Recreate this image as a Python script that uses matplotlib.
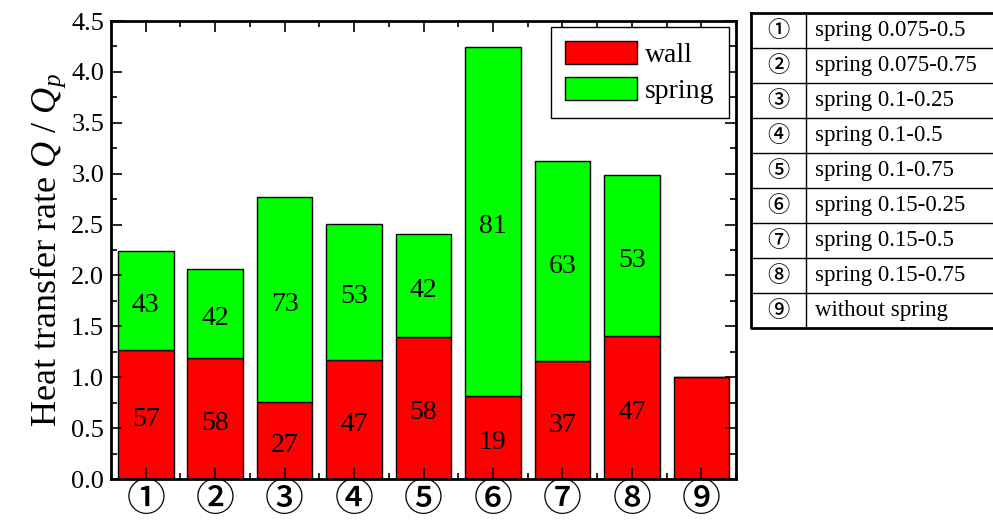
import matplotlib
matplotlib.use('Agg')
import matplotlib.pyplot as plt
import numpy as np

plt.rcParams['font.family'] = ['Liberation Serif', 'DejaVu Serif']
plt.rcParams['mathtext.fontset'] = 'custom'
plt.rcParams['mathtext.rm'] = 'Liberation Serif'
plt.rcParams['mathtext.it'] = 'Liberation Serif:italic'

# heat transfer rate split into wall and spring parts
cases = ['①', '②', '③', '④', '⑤', '⑥', '⑦', '⑧', '⑨']
wall = [1.27, 1.19, 0.76, 1.17, 1.40, 0.82, 1.16, 1.41, 1.00]
spring = [0.97, 0.87, 2.01, 1.34, 1.01, 3.42, 1.96, 1.58, 0.0]
case_names = ['spring 0.075-0.5', 'spring 0.075-0.75', 'spring 0.1-0.25',
              'spring 0.1-0.5', 'spring 0.1-0.75', 'spring 0.15-0.25',
              'spring 0.15-0.5', 'spring 0.15-0.75', 'without spring']

circ_font = ['Noto Sans CJK JP', 'DejaVu Sans']

fig = plt.figure(figsize=(9.93, 5.25), dpi=100)
ax = fig.add_axes([0.1118, 0.0876, 0.6294, 0.8724])

x = np.arange(1, len(cases) + 1)
ax.bar(x, wall, 0.8, color='#ff0000', edgecolor='black', linewidth=1, label='wall')
ax.bar(x, spring, 0.8, bottom=wall, color='#00ff00', edgecolor='black',
       linewidth=1, label='spring')

# percentage share of each part
for i in range(len(cases)):
    if spring[i] == 0:
        continue
    total = wall[i] + spring[i]
    pw = int(round(100 * wall[i] / total))
    ax.text(x[i], wall[i] / 2 - 0.05, str(pw), ha='center', va='center', fontsize=20)
    ax.text(x[i], wall[i] + spring[i] / 2 - 0.05, str(100 - pw), ha='center',
            va='center', fontsize=20)

ax.set_xlim(0.5, 9.5)
ax.set_ylim(0, 4.5)
ax.set_xticks(x)
ax.set_xticks(x + 0.5, minor=True)
ax.set_xticklabels(cases, fontfamily=circ_font, fontsize=28, fontweight='medium')
ax.set_yticks(np.arange(0, 4.51, 0.5))
ax.set_yticks(np.arange(0.25, 4.5, 0.5), minor=True)
ax.set_yticklabels([f'{v:.1f}' for v in np.arange(0, 4.51, 0.5)], fontsize=19)
ax.tick_params(which='both', direction='in', top=True, right=True, width=1.2)
ax.tick_params(which='major', length=8)
ax.tick_params(which='minor', length=4)
ax.tick_params(axis='x', pad=1)
ax.tick_params(axis='y', pad=5)
for s in ax.spines.values():
    s.set_linewidth(2)

ax.set_ylabel('Heat transfer rate $Q$ / $Q_p$', fontsize=26, labelpad=2)

leg = ax.legend(loc='upper right', bbox_to_anchor=(0.988, 0.986), borderaxespad=0,
                fontsize=20, fancybox=False, edgecolor='black', framealpha=1,
                handlelength=2.6, handleheight=0.9, handletextpad=0.3,
                borderpad=0.5, labelspacing=0.3)
leg.get_frame().set_linewidth(1)

# case list drawn as a table
tax = fig.add_axes([751 / 993, 1 - 328 / 525, (1000 - 751) / 993, (328 - 13) / 525])
tax.set_xlim(0, 1)
tax.set_ylim(len(cases), 0)
tax.axis('off')
div = 55 / 249
for r in range(1, len(cases)):
    tax.plot([0, 1], [r, r], color='black', linewidth=1)
tax.plot([div, div], [0, len(cases)], color='black', linewidth=1)
tax.plot([0, 1, 1, 0, 0], [0, 0, len(cases), len(cases), 0], color='black',
         linewidth=2, clip_on=False)
for r in range(len(cases)):
    tax.text(div / 2, r + 0.5, cases[r], ha='center', va='center',
             fontfamily=circ_font, fontsize=16, fontweight='medium')
    tax.text(div + 0.035, r + 0.5, case_names[r], ha='left', va='center', fontsize=16.5)

fig.savefig('out.png', dpi=100)
